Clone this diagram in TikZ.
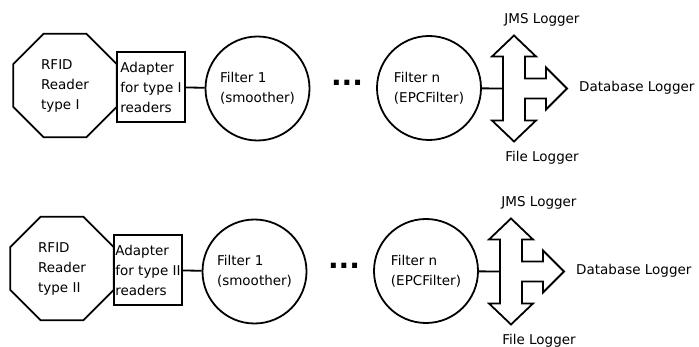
\documentclass[tikz,border=0pt]{standalone}
\usepackage{fontspec}
\setmainfont{DejaVu Sans}
\usetikzlibrary{shapes}
\tikzset{
	reader/.style= {
		shape=regular polygon,
		regular polygon sides=8,
		minimum size=112pt, draw,
		line width=1.8pt,
		inner sep=0, align=left
	},
	adapter/.style={draw, line width=1.8pt, minimum width=68pt, minimum height=70pt, inner sep=1pt, align=left},
	filter/.style={circle, draw, line width=1.8pt, minimum size=104pt, inner sep=0, align=left},
	wire/.style={line width=1.8pt}
}

\begin{document}
\begin{tikzpicture}[x=1pt,y=-1pt,font=\fontsize{13.5}{20}\selectfont]
\useasboundingbox (0,0) rectangle (699,347);
% one row per reader type
\foreach \r/\dx/\dy/\typ in {1/0/0/I, 2/-3/183/II}{%
	\begin{scope}[shift={(\dx,\dy)}]
		\node[reader] (rd\r) at (65,85.5) {RFID\\Reader\\type \typ};
		\node[adapter] (ad\r) at (151,87) {Adapter\\for type \typ\\readers};
		\node[filter] (fa\r) at (257.5,88.5) {Filter 1\\(smoother)};
		\node[anchor=base, inner sep=0, font=\fontsize{28}{28}\selectfont\bfseries] (dots\r) at (347,85.5) {...};
		\node[filter] (fn\r) at (429,88) {Filter n\\(EPCFilter)};
		% the three-way arrow
		\coordinate (hub\r) at (514,88.5);
		\path (hub\r) ++(-11,0) coordinate (in\r);
		\draw[wire, shift={(hub\r)}] (0,-53) -- (22,-32) -- (11,-32) -- (11,-10) -- (32,-10) -- (32,-21) -- (53,0)
			-- (32,21) -- (32,10) -- (11,10) -- (11,32) -- (22,32) -- (0,53) -- (-22,32) -- (-11,32)
			-- (-11,-32) -- (-22,-32) -- cycle;
		\node (jms\r) at (542,20) {JMS Logger};
		\node[anchor=west, inner sep=0] (db\r) at (579,88) {Database Logger};
		\node (file\r) at (542,158) {File Logger};
		\draw[wire] (ad\r) -- (fa\r);
		\draw[wire] (fn\r) -- (in\r);
	\end{scope}
}
\end{tikzpicture}
\end{document}
